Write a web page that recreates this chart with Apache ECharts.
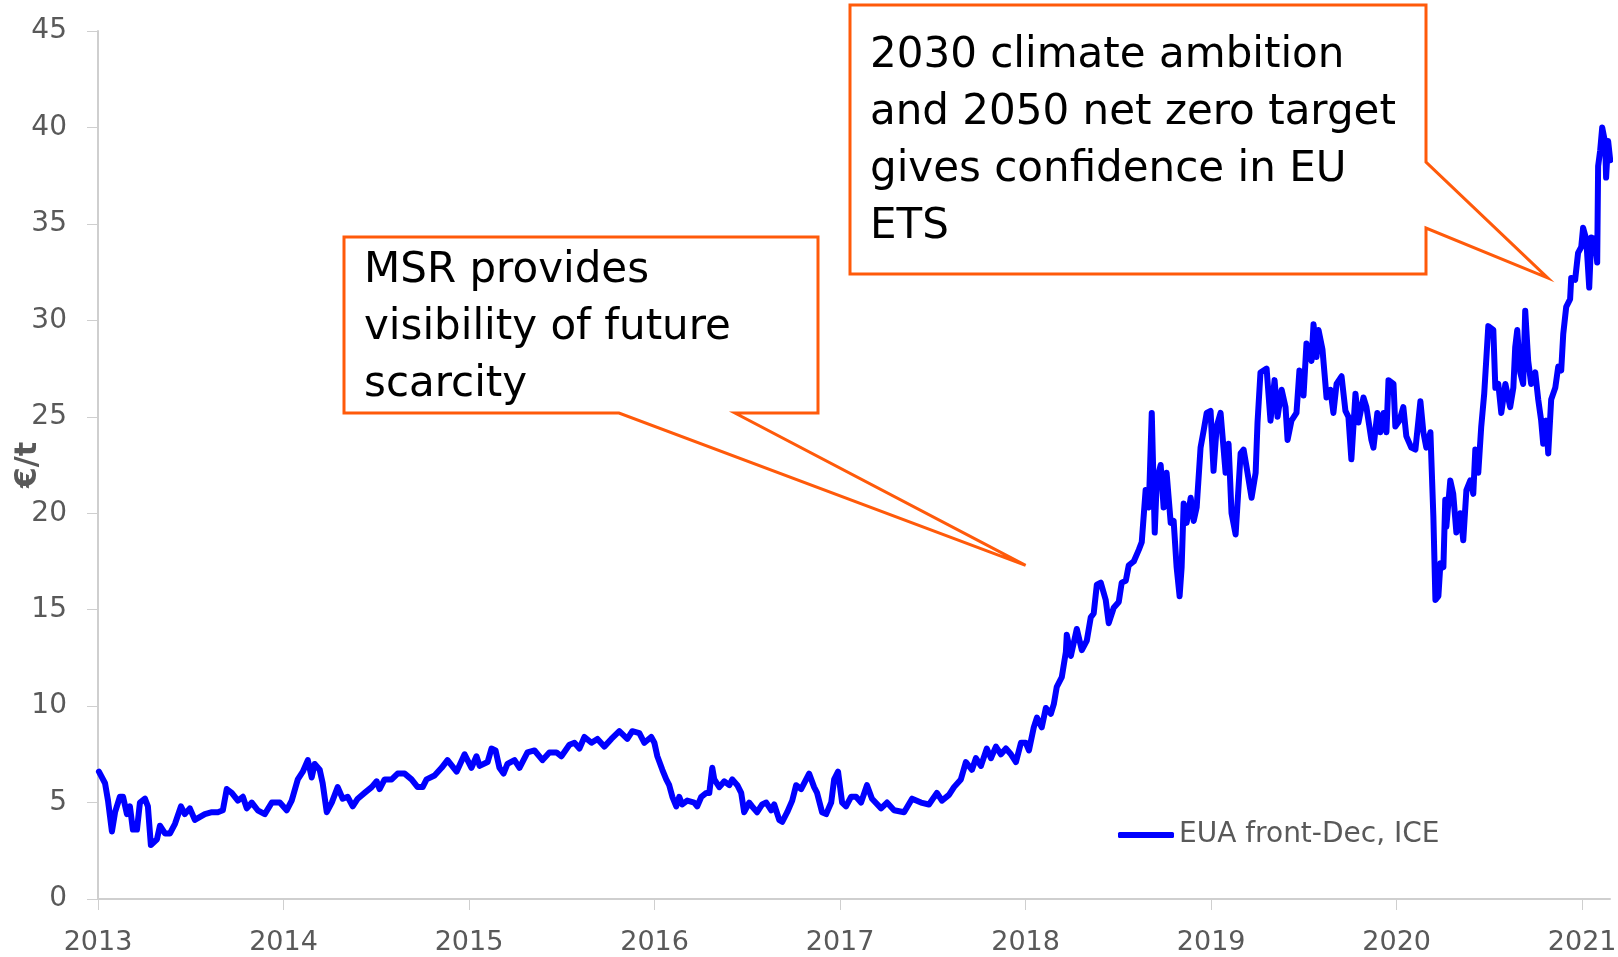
<!DOCTYPE html>
<html>
<head>
<meta charset="utf-8">
<script src="https://cdn.jsdelivr.net/npm/echarts@6/dist/echarts.min.js"></script>
<style>
html,body{margin:0;padding:0;background:#fff;}
#chart{width:1618px;height:957px;}
</style>
</head>
<body>
<div id="chart"></div>
<script>
// ---- Data ----
const seriesName = 'EUA front-Dec, ICE';
const yearTicks = [2013, 2014, 2015, 2016, 2017, 2018, 2019, 2020, 2021];
const yTicks = [0, 5, 10, 15, 20, 25, 30, 35, 40, 45];

const t2013 = [2013.005,2013.038,2013.054,2013.075,2013.092,2013.118,2013.135,2013.156,2013.172,2013.188,2013.210,2013.226,2013.253,2013.269,2013.285,2013.318,2013.334,2013.361,2013.388,2013.415,2013.447,2013.468,2013.495,2013.522,2013.576,2013.614,2013.646,2013.673,2013.694,2013.721,2013.754,2013.781,2013.802,2013.829,2013.861,2013.899,2013.937,2013.980];
const p2013 = [6.6,6.0,5.1,3.5,4.5,5.3,5.3,4.4,4.8,3.6,3.6,5.0,5.2,4.8,2.8,3.1,3.8,3.4,3.4,3.9,4.8,4.4,4.7,4.1,4.4,4.5,4.5,4.6,5.7,5.5,5.1,5.3,4.7,5.0,4.6,4.4,5.0,5.0];

const t2014 = [2014.017,2014.044,2014.077,2014.104,2014.131,2014.152,2014.168,2014.195,2014.211,2014.233,2014.260,2014.292,2014.319,2014.346,2014.373,2014.400,2014.437,2014.475,2014.502,2014.518,2014.545,2014.583,2014.615,2014.653,2014.690,2014.723,2014.750,2014.771,2014.814,2014.852,2014.884,2014.933,2014.976];
const p2014 = [4.6,5.1,6.2,6.6,7.2,6.3,7.0,6.7,6.0,4.5,5.0,5.8,5.2,5.3,4.8,5.2,5.5,5.8,6.1,5.7,6.2,6.2,6.5,6.5,6.2,5.8,5.8,6.2,6.4,6.8,7.2,6.6,7.5];

const t2015 = [2015.013,2015.040,2015.057,2015.100,2015.121,2015.143,2015.164,2015.186,2015.207,2015.245,2015.272,2015.315,2015.353,2015.396,2015.433,2015.471,2015.498,2015.541,2015.568,2015.595,2015.622,2015.660,2015.692,2015.729,2015.767,2015.810,2015.853,2015.880,2015.918,2015.945,2015.982,2015.999];
const p2015 = [6.8,7.4,6.9,7.1,7.8,7.7,6.8,6.5,7.0,7.2,6.8,7.6,7.7,7.2,7.6,7.6,7.4,8.0,8.1,7.8,8.4,8.1,8.3,7.9,8.3,8.7,8.3,8.7,8.6,8.1,8.4,8.1];

const t2016 = [2016.015,2016.042,2016.063,2016.079,2016.096,2016.117,2016.133,2016.149,2016.176,2016.214,2016.230,2016.252,2016.279,2016.295,2016.311,2016.322,2016.349,2016.376,2016.403,2016.419,2016.446,2016.467,2016.483,2016.510,2016.526,2016.553,2016.580,2016.602,2016.629,2016.645,2016.672,2016.688,2016.715,2016.742,2016.763,2016.790,2016.806,2016.833,2016.860,2016.876,2016.903,2016.925,2016.952,2016.968,2016.989];
const p2016 = [7.4,6.7,6.2,5.9,5.3,4.8,5.3,4.9,5.1,5.0,4.8,5.3,5.5,5.5,6.8,6.2,5.8,6.1,5.9,6.2,5.9,5.5,4.5,5.0,4.8,4.5,4.9,5.0,4.6,4.9,4.1,4.0,4.5,5.1,5.9,5.7,6.0,6.5,5.8,5.5,4.5,4.4,5.0,6.2,6.6];

const t2017 = [2017.011,2017.032,2017.059,2017.086,2017.113,2017.145,2017.172,2017.221,2017.253,2017.291,2017.345,2017.388,2017.436,2017.479,2017.522,2017.549,2017.587,2017.614,2017.651,2017.678,2017.711,2017.732,2017.759,2017.791,2017.813,2017.840,2017.867,2017.894,2017.921,2017.948,2017.975];
const p2017 = [5.0,4.8,5.3,5.3,5.0,5.9,5.2,4.7,5.0,4.6,4.5,5.2,5.0,4.9,5.5,5.1,5.4,5.8,6.2,7.1,6.7,7.3,6.9,7.8,7.3,7.9,7.5,7.8,7.5,7.1,8.1];

const t2018 = [2018.001,2018.018,2018.044,2018.061,2018.087,2018.109,2018.136,2018.152,2018.168,2018.195,2018.217,2018.222,2018.244,2018.276,2018.303,2018.330,2018.351,2018.367,2018.384,2018.405,2018.432,2018.448,2018.475,2018.502,2018.518,2018.540,2018.556,2018.583,2018.610,2018.626,2018.647,2018.664,2018.680,2018.696,2018.707,2018.728,2018.744,2018.760,2018.782,2018.798,2018.814,2018.830,2018.841,2018.852,2018.868,2018.890,2018.906,2018.922,2018.943,2018.960,2018.976,2018.997];
const p2018 = [8.1,7.7,8.9,9.4,8.9,9.9,9.6,10.1,11.0,11.5,12.8,13.7,12.6,14.0,12.9,13.4,14.6,14.8,16.3,16.4,15.5,14.3,15.1,15.4,16.4,16.5,17.3,17.5,18.1,18.5,21.2,20.3,25.2,19.0,21.7,22.5,20.3,22.1,19.5,19.6,17.2,15.7,17.2,20.5,19.5,20.8,19.6,20.3,23.4,24.3,25.2,25.3];

const t2019 = [2019.013,2019.030,2019.051,2019.078,2019.094,2019.110,2019.132,2019.159,2019.175,2019.191,2019.218,2019.240,2019.250,2019.266,2019.299,2019.320,2019.342,2019.358,2019.380,2019.401,2019.412,2019.433,2019.460,2019.476,2019.498,2019.514,2019.541,2019.552,2019.568,2019.579,2019.600,2019.616,2019.622,2019.643,2019.659,2019.676,2019.703,2019.724,2019.740,2019.756,2019.778,2019.794,2019.821,2019.837,2019.864,2019.875,2019.896,2019.912,2019.929,2019.945,2019.956,2019.983,2019.993];
const p2019 = [22.2,24.5,25.2,22.1,23.6,20.0,18.9,23.1,23.3,22.4,20.8,22.1,24.7,27.3,27.5,24.8,26.9,25.0,26.4,25.5,23.8,24.8,25.2,27.4,26.1,28.8,27.9,29.8,28.1,29.5,28.5,26.7,26.0,26.4,25.2,26.7,27.1,25.3,25.0,22.8,26.2,24.7,26.0,25.5,23.8,23.4,25.2,24.2,25.2,24.2,26.9,26.7,24.5];

const t2020 = [2020.015,2020.036,2020.052,2020.079,2020.101,2020.128,2020.144,2020.160,2020.182,2020.198,2020.209,2020.225,2020.236,2020.252,2020.262,2020.268,2020.289,2020.305,2020.322,2020.343,2020.359,2020.376,2020.397,2020.413,2020.424,2020.440,2020.456,2020.472,2020.494,2020.521,2020.532,2020.548,2020.564,2020.586,2020.612,2020.629,2020.639,2020.650,2020.666,2020.682,2020.693,2020.709,2020.725,2020.747,2020.763,2020.779,2020.790,2020.806,2020.817,2020.833,2020.855,2020.871,2020.887,2020.898,2020.914,2020.935,2020.941,2020.962,2020.978,2020.995];
const p2020 = [24.8,25.5,24.0,23.4,23.3,25.8,24.2,23.4,24.2,19.8,15.5,15.7,17.4,17.2,20.7,19.3,21.7,21.0,19.0,20.0,18.6,21.2,21.7,21.0,23.3,22.1,24.5,26.2,29.7,29.5,26.5,26.7,25.2,26.7,25.5,26.5,28.6,29.5,27.3,26.7,30.5,27.9,26.7,27.3,25.9,24.8,23.6,24.8,23.1,25.9,26.5,27.6,27.4,29.3,30.7,31.1,32.2,32.1,33.5,33.8];

const t2021 = [2021.005,2021.022,2021.038,2021.049,2021.070,2021.081,2021.086,2021.097,2021.108,2021.124,2021.129,2021.140,2021.151];
const p2021 = [34.8,34.2,31.7,34.3,34.2,33.0,38.0,38.8,40.0,39.2,37.4,39.3,38.3];

// Annotation texts and the data points their callout tails point at
const noteMSR = ['MSR provides', 'visibility of future', 'scarcity'];
const noteClimate = ['2030 climate ambition', 'and 2050 net zero target', 'gives confidence in EU', 'ETS'];
const tipMSR = [2018.0, 17.3];
const tipClimate = [2020.814, 32.2];

// ---- Build ----
const times = [].concat(t2013, t2014, t2015, t2016, t2017, t2018, t2019, t2020, t2021);
const prices = [].concat(p2013, p2014, p2015, p2016, p2017, p2018, p2019, p2020, p2021);
const seriesData = times.map((t, i) => [t, prices[i]]);

const FONT = '"DejaVu Sans", Verdana, sans-serif';
const GRAY = '#595959';
const AXIS = '#CFCFCF';
const ORANGE = '#FF5A0A';

const chart = echarts.init(document.getElementById('chart'), null, {renderer: 'canvas'});

chart.setOption({
  animation: false,
  backgroundColor: '#ffffff',
  grid: {left: 98, right: 8, top: 31, bottom: 58, containLabel: false, outerBoundsMode: 'none'},
  legend: {
    data: [{name: seriesName, icon: 'roundRect'}],
    left: 1113, top: 816,
    itemWidth: 56, itemHeight: 6,
    textStyle: {fontFamily: FONT, fontSize: 28, color: GRAY},
    selectedMode: false
  },
  xAxis: {
    type: 'value',
    min: 2013, max: 2021.15, interval: 1,
    axisLine: {show: true, lineStyle: {color: AXIS, width: 2}},
    axisTick: {show: true, length: 11, lineStyle: {color: AXIS, width: 1}, customValues: yearTicks},
    axisLabel: {
      customValues: yearTicks,
      margin: 30, fontFamily: FONT, fontSize: 27, color: GRAY,
      formatter: v => String(Math.round(v))
    },
    splitLine: {show: false}
  },
  yAxis: {
    type: 'value',
    min: 0, max: 45, interval: 5,
    name: '€/t',
    nameLocation: 'middle',
    nameGap: 55,
    nameMoveOverlap: false,
    nameTextStyle: {fontFamily: FONT, fontSize: 30, fontWeight: 'bold', color: GRAY},
    axisLine: {show: true, lineStyle: {color: AXIS, width: 2}},
    axisTick: {show: true, length: 11, lineStyle: {color: AXIS, width: 1}, customValues: yTicks},
    axisLabel: {customValues: yTicks, margin: 31, fontFamily: FONT, fontSize: 28, color: GRAY},
    splitLine: {show: false}
  },
  series: [{
    name: seriesName,
    type: 'line',
    data: seriesData,
    symbol: 'none',
    showSymbol: false,
    lineStyle: {color: '#0000FF', width: 6, join: 'round', cap: 'round'},
    itemStyle: {color: '#0000FF'},
    z: 2
  }]
});

// ---- Callout boxes (anchored to data points via the chart's scales) ----
const a = chart.convertToPixel({gridIndex: 0}, tipMSR);
const b = chart.convertToPixel({gridIndex: 0}, tipClimate);

const box1 = {l: 344, r: 818, t: 237, b: 413, tail1: 619, tail2: 735};
const box2 = {l: 850, r: 1426, t: 5, b: 274, tail1: 162, tail2: 228};

chart.setOption({
  graphic: [
    {
      type: 'polygon', z: 10,
      shape: {points: [[box1.l, box1.t], [box1.r, box1.t], [box1.r, box1.b], [box1.tail2, box1.b], a, [box1.tail1, box1.b], [box1.l, box1.b]]},
      style: {fill: '#ffffff', stroke: ORANGE, lineWidth: 3, lineJoin: 'miter'}
    },
    {
      type: 'text', z: 11,
      style: {
        text: noteMSR.join('\n'), x: 364, y: 243,
        fontFamily: FONT, fontSize: 42, fill: '#000000', lineHeight: 57,
        verticalAlign: 'top', align: 'left'
      }
    },
    {
      type: 'polygon', z: 10,
      shape: {points: [[box2.l, box2.t], [box2.r, box2.t], [box2.r, box2.tail1], b, [box2.r, box2.tail2], [box2.r, box2.b], [box2.l, box2.b]]},
      style: {fill: '#ffffff', stroke: ORANGE, lineWidth: 3, lineJoin: 'miter'}
    },
    {
      type: 'text', z: 11,
      style: {
        text: noteClimate.join('\n'), x: 870, y: 28,
        fontFamily: FONT, fontSize: 42, fill: '#000000', lineHeight: 57,
        verticalAlign: 'top', align: 'left'
      }
    }
  ]
});
</script>
</body>
</html>
